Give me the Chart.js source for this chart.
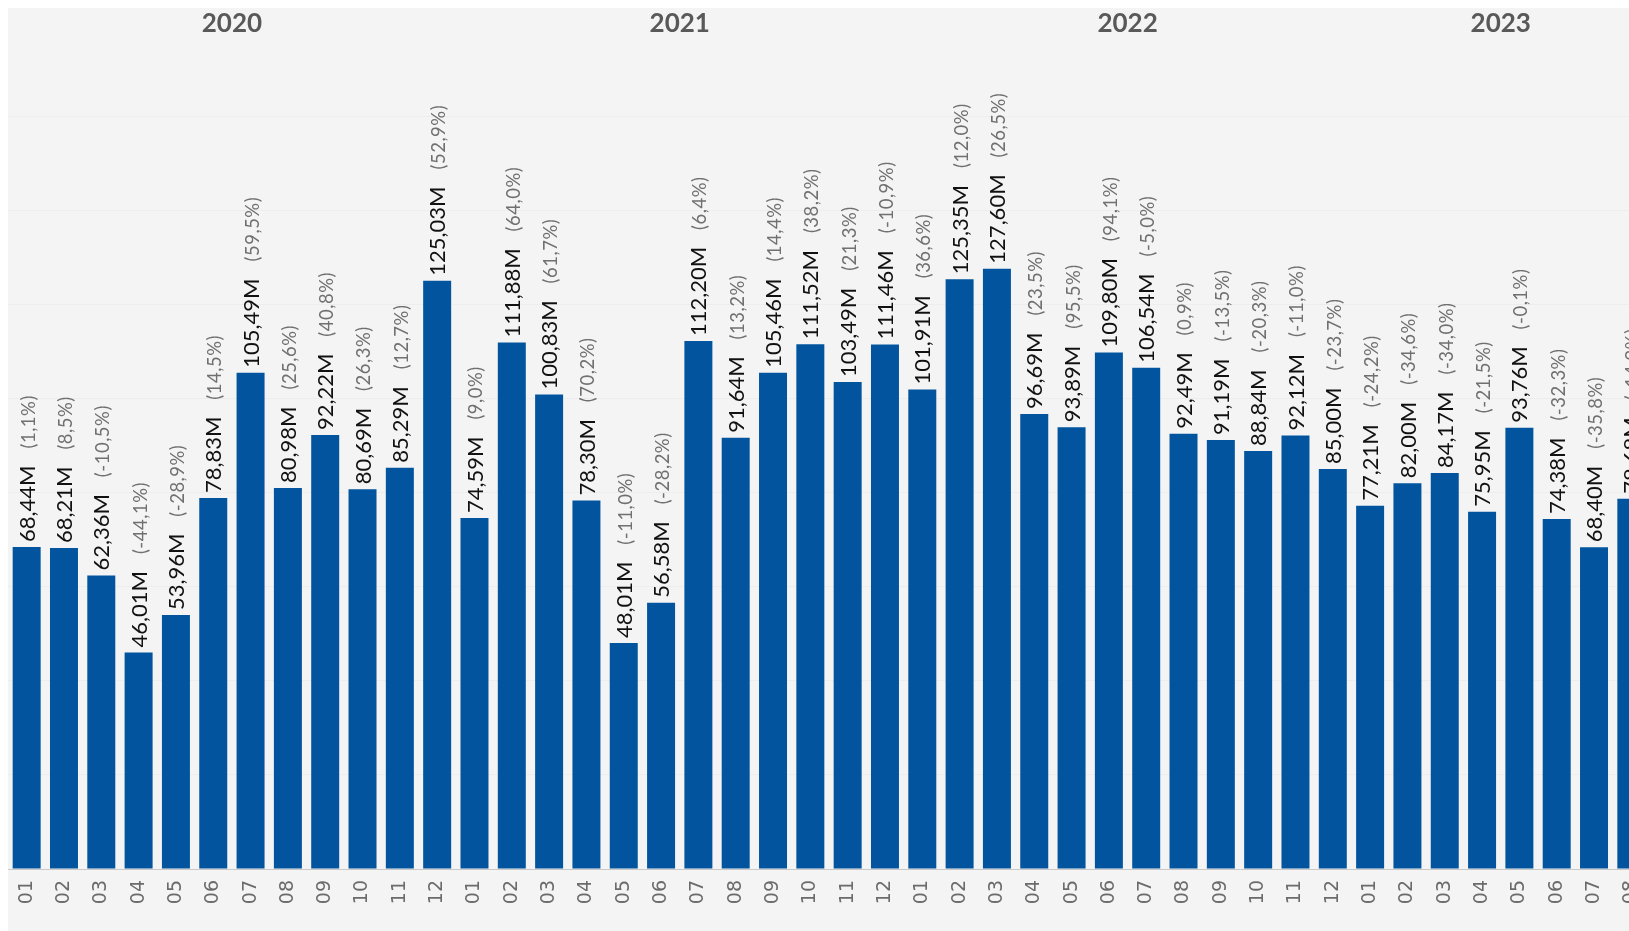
<!DOCTYPE html>
<html>
<head>
<meta charset="utf-8">
<title>Monthly volume 2020-2023</title>
<script src="https://cdn.jsdelivr.net/npm/chart.js@4.4.1/dist/chart.umd.min.js"></script>
<style>
  html, body { margin: 0; padding: 0; background: #ffffff; overflow: hidden; }
  #wrap { width: 1650px; height: 931px; }
</style>
</head>
<body>
<div id="wrap"><canvas id="volChart" width="1650" height="931"></canvas></div>
<script>
const years = ["2020", "2021", "2022", "2023"];
const monthTicks = ["01", "02", "03", "04", "05", "06", "07", "08", "09", "10", "11", "12"];

// values in millions
const values2020 = [68.44, 68.21, 62.36, 46.01, 53.96, 78.83, 105.49, 80.98, 92.22, 80.69, 85.29, 125.03];
const values2021 = [74.59, 111.88, 100.83, 78.30, 48.01, 56.58, 112.20, 91.64, 105.46, 111.52, 103.49, 111.46];
const values2022 = [101.91, 125.35, 127.60, 96.69, 93.89, 109.80, 106.54, 92.49, 91.19, 88.84, 92.12, 85.00];
const values2023 = [77.21, 82.00, 84.17, 75.95, 93.76, 74.38, 68.40, 78.68];

// change vs same month previous year, %
const pct2020 = [1.1, 8.5, -10.5, -44.1, -28.9, 14.5, 59.5, 25.6, 40.8, 26.3, 12.7, 52.9];
const pct2021 = [9.0, 64.0, 61.7, 70.2, -11.0, -28.2, 6.4, 13.2, 14.4, 38.2, 21.3, -10.9];
const pct2022 = [36.6, 12.0, 26.5, 23.5, 95.5, 94.1, -5.0, 0.9, -13.5, -20.3, -11.0, -23.7];
const pct2023 = [-24.2, -34.6, -34.0, -21.5, -0.1, -32.3, -35.8, -14.9];

const yearValues = [values2020, values2021, values2022, values2023];
const yearPct = [pct2020, pct2021, pct2022, pct2023];

let labels = [];
let values = [];
let pcts = [];
let yearSpans = [];
yearValues.forEach((vals, yi) => {
  const start = values.length;
  vals.forEach((v, mi) => {
    labels.push(monthTicks[mi]);
    values.push(v);
    pcts.push(yearPct[yi][mi]);
  });
  yearSpans.push({ year: years[yi], from: start, to: values.length - 1 });
});

const fmt = (n, d) => n.toFixed(d).replace(".", ",");

// panel background
const panelBg = {
  id: "panelBg",
  beforeDraw(chart) {
    const { ctx, width, height } = chart;
    ctx.save();
    ctx.fillStyle = "#ffffff";
    ctx.fillRect(0, 0, width, height);
    ctx.fillStyle = "#f4f4f4";
    ctx.fillRect(8, 8, width - 8, height - 8);
    ctx.restore();
  },
};

// rotated value + percentage labels above each bar
const barLabels = {
  id: "barLabels",
  afterDatasetsDraw(chart) {
    const { ctx } = chart;
    const meta = chart.getDatasetMeta(0);
    meta.data.forEach((bar, i) => {
      ctx.save();
      ctx.translate(bar.x + 1, bar.y - 5);
      ctx.rotate(-Math.PI / 2);
      ctx.textAlign = "left";
      ctx.textBaseline = "middle";
      ctx.font = "22px Lato";
      ctx.fillStyle = "#111111";
      const valText = fmt(values[i], 2) + "M";
      ctx.fillText(valText, 0, 0);
      const w = ctx.measureText(valText).width;
      ctx.font = "18.5px Lato";
      ctx.fillStyle = "#707070";
      ctx.letterSpacing = "0.5px";
      ctx.fillText("(" + fmt(pcts[i], 1) + "%)", w + 17, 1);
      ctx.restore();
    });
  },
};

// year headings over each group of months
const yearHeads = {
  id: "yearHeads",
  afterDraw(chart) {
    const { ctx } = chart;
    const xs = chart.scales.x;
    ctx.save();
    ctx.font = "bold 26px Lato";
    ctx.fillStyle = "#595959";
    ctx.textAlign = "center";
    ctx.textBaseline = "middle";
    yearSpans.forEach((s) => {
      const cx = (xs.getPixelForValue(s.from) + xs.getPixelForValue(s.to)) / 2;
      ctx.fillText(s.year, cx, 24);
    });
    ctx.restore();
  },
};

const chartCtx = document.getElementById("volChart").getContext("2d");
const volChart = new Chart(chartCtx, {
  type: "bar",
  data: {
    labels: labels,
    datasets: [{
      data: values,
      backgroundColor: "#02549f",
      barPercentage: 0.75,
      categoryPercentage: 1.0,
    }],
  },
  options: {
    responsive: false,
    animation: false,
    devicePixelRatio: 1,
    layout: { padding: { left: 8, right: 0, top: 8, bottom: 0 } },
    plugins: {
      legend: { display: false },
      tooltip: { enabled: false },
    },
    scales: {
      x: {
        grid: { display: false, drawTicks: false },
        border: { display: true, color: "#c9c9c9", dash: [4, 3], width: 1 },
        ticks: {
          autoSkip: false,
          minRotation: 90,
          maxRotation: 90,
          padding: 11,
          color: "#6b6b6b",
          font: { family: "DejaVu Sans", size: 19 },
        },
        afterFit: (scale) => {
          scale.height = 62;
          scale.paddingLeft = 0;
          scale.paddingRight = 0;
        },
      },
      y: {
        min: 0,
        max: 183,
        ticks: { display: false, stepSize: 20 },
        border: { display: false },
        grid: {
          drawTicks: false,
          color: (c) => (c.tick && c.tick.value > 0 && c.tick.value <= 160 ? "#ededed" : "rgba(0,0,0,0)"),
        },
        afterFit: (scale) => {
          scale.width = 0;
          scale.paddingTop = 0;
          scale.paddingBottom = 0;
        },
      },
    },
  },
  plugins: [panelBg, barLabels, yearHeads],
});
</script>
</body>
</html>
